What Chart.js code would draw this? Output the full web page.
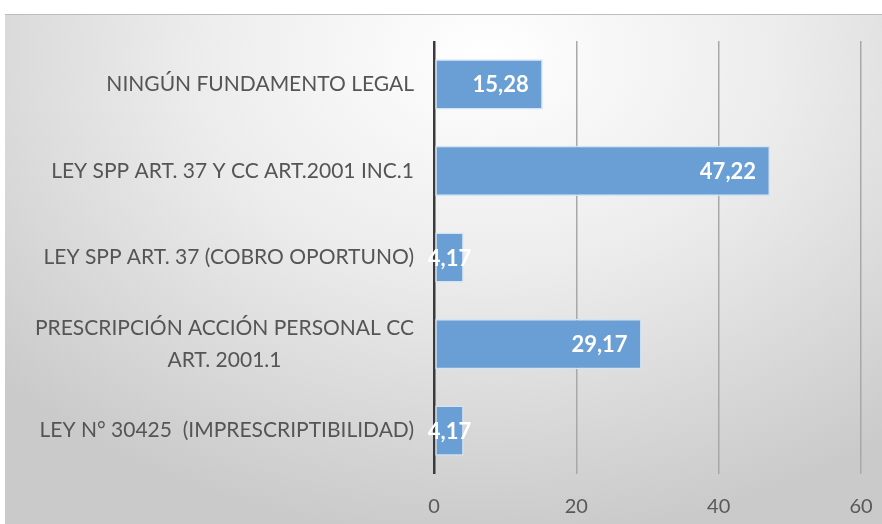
<!DOCTYPE html>
<html>
<head>
<meta charset="utf-8">
<script src="https://cdn.jsdelivr.net/npm/chart.js@4.4.1/dist/chart.umd.min.js"></script>
<style>
  html, body { margin: 0; padding: 0; background: #fff; }
  #wrap {
    position: absolute; left: 5px; top: 14px; width: 877px; height: 510px;
    background: radial-gradient(ellipse 75% 95% at 55% 8%, #ffffff 0%, #ececec 45%, #d6d6d6 80%, #cacaca 100%);
    border-top: 1px solid #bdbdbd;
    box-sizing: border-box;
  }
  canvas { display: block; }
</style>
</head>
<body>
<div id="wrap"><canvas id="chart" width="877" height="509"></canvas></div>
<script>
const categories = [
  'NINGÚN FUNDAMENTO LEGAL',
  'LEY SPP ART. 37 Y CC ART.2001 INC.1',
  'LEY SPP ART. 37 (COBRO OPORTUNO)',
  ['PRESCRIPCIÓN ACCIÓN PERSONAL CC', 'ART. 2001.1'],
  'LEY N° 30425  (IMPRESCRIPTIBILIDAD)'
];
const values = [15.28, 47.22, 4.17, 29.17, 4.17];
const xTicks = [0, 20, 40, 60];

const FONT = 'Lato, "Open Sans", sans-serif';

// white value labels at the inside end of each bar
const barLabels = {
  id: 'barLabels',
  afterDatasetsDraw(chart) {
    const ctx = chart.ctx;
    const meta = chart.getDatasetMeta(0);
    ctx.save();
    ctx.font = 'bold 22px ' + FONT;
    ctx.fillStyle = '#ffffff';
    ctx.textBaseline = 'middle';
    meta.data.forEach((bar, i) => {
      const txt = values[i].toFixed(2).replace('.', ',');
      const w = ctx.measureText(txt).width;
      const len = bar.x - bar.base;
      if (w + 28 > len) {
        ctx.textAlign = 'center';
        ctx.fillText(txt, (bar.x + bar.base) / 2, bar.y + 1);
      } else {
        ctx.textAlign = 'right';
        ctx.fillText(txt, bar.x - 14, bar.y + 1);
      }
    });
    ctx.restore();
  }
};

// category labels: blocks right-aligned to the axis, lines centred inside a block
const catLabels = {
  id: 'catLabels',
  afterDraw(chart) {
    const ctx = chart.ctx;
    const y = chart.scales.y;
    const right = chart.chartArea.left - 20;
    ctx.save();
    ctx.font = '21px ' + FONT;
    ctx.fillStyle = '#555555';
    ctx.textBaseline = 'middle';
    ctx.textAlign = 'center';
    categories.forEach((lab, i) => {
      const lines = Array.isArray(lab) ? lab : [lab];
      const bw = Math.max(...lines.map(l => ctx.measureText(l).width));
      const cx = right - bw / 2;
      const cy = y.getPixelForTick(i);
      const lh = 32;
      lines.forEach((l, k) => {
        ctx.fillText(l, cx, cy + (k - (lines.length - 1) / 2) * lh);
      });
    });
    ctx.restore();
  }
};

new Chart(document.getElementById('chart'), {
  type: 'bar',
  data: {
    labels: categories,
    datasets: [{
      data: values,
      backgroundColor: '#6a9fd6',
      borderColor: '#d3e4f5',
      borderWidth: 1.5,
      borderSkipped: false,
      barPercentage: 0.58,
      categoryPercentage: 1
    }]
  },
  options: {
    indexAxis: 'y',
    responsive: false,
    animation: false,
    layout: { padding: { top: 26, right: 21, bottom: 0, left: 0 } },
    plugins: { legend: { display: false }, tooltip: { enabled: false } },
    scales: {
      x: {
        min: 0, max: 60,
        afterBuildTicks: s => { s.ticks = xTicks.map(v => ({ value: v })); },
        grid: {
          color: ctx => ctx.tick && ctx.tick.value === 0 ? '#3a3a3a' : '#a8a8a8',
          lineWidth: ctx => ctx.tick && ctx.tick.value === 0 ? 2.5 : 1.5,
          drawTicks: false
        },
        border: { display: false },
        ticks: { color: '#595959', font: { family: FONT, size: 20 }, padding: 21 },
        afterFit: s => { s.height = 50; s.paddingLeft = 0; s.paddingRight = 0; }
      },
      y: {
        grid: { display: false },
        border: { display: false },
        ticks: { display: false },
        afterFit: s => { s.width = 429; s.paddingTop = 0; s.paddingBottom = 0; }
      }
    }
  },
  plugins: [barLabels, catLabels]
});
</script>
</body>
</html>
